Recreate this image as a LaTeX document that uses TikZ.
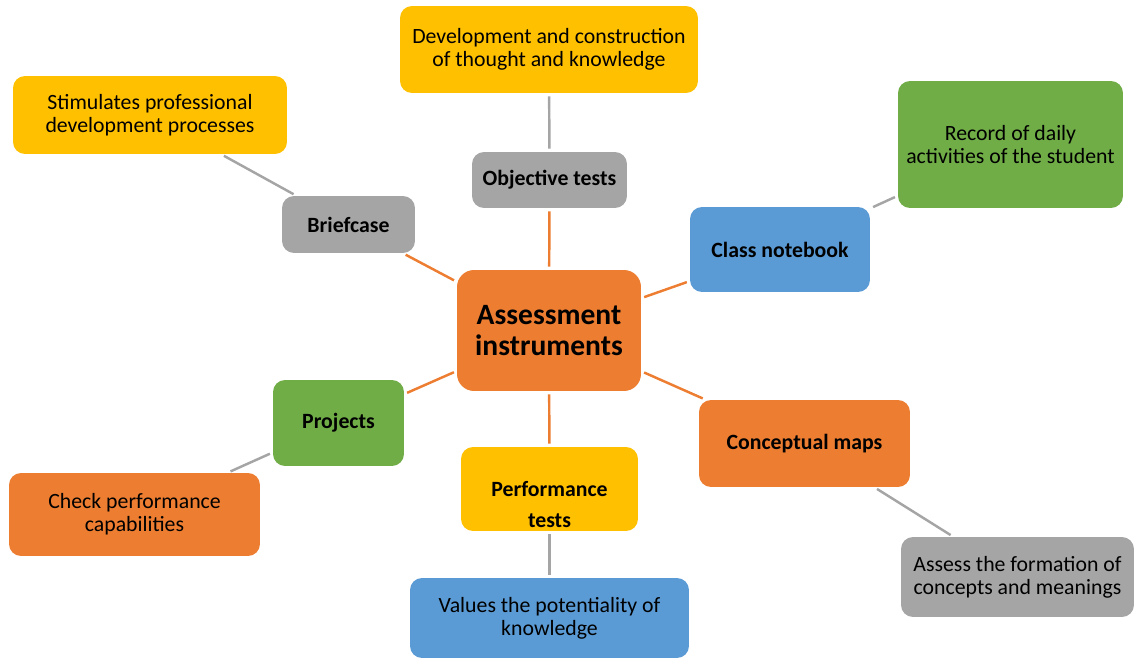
\documentclass[tikz,border=0pt]{standalone}
\usepackage{fontspec}
\setmainfont{Carlito}

\definecolor{accOrange}{HTML}{ED7D31}
\definecolor{accGray}{HTML}{A5A5A5}
\definecolor{accGold}{HTML}{FFC000}
\definecolor{accBlue}{HTML}{5B9BD5}
\definecolor{accGreen}{HTML}{70AD47}

\tikzset{
  box/.style={rounded corners=0.24cm, inner sep=2pt, align=center, text=black},
  topic/.style={box, font=\bfseries\fontsize{12.4}{15}\selectfont},
  note/.style={box, font=\fontsize{12.4}{13.1}\selectfont},
  link/.style={line width=1.4pt, shorten <=0.06cm, shorten >=0.06cm},
}

\begin{document}
\begin{tikzpicture}[x=0.02cm, y=-0.02cm]
\useasboundingbox (0,0) rectangle (1134,658);

% === Centre ===
\node[box, fill=accOrange, minimum width=3.68cm, minimum height=2.42cm, rounded corners=0.34cm,
      font=\bfseries\fontsize{16.8}{18.1}\selectfont] (hub) at (549,330.5) {Assessment\\instruments};

% === Objective tests ===
\node[topic, fill=accGray, minimum width=3.1cm, minimum height=1.12cm] (objt) at (549.5,180) {Objective tests};
\node[note, fill=accGold, minimum width=5.96cm, minimum height=1.74cm] (devt) at (549,49.5)
     {Development and construction\\of thought and knowledge};

% === Briefcase ===
\node[topic, fill=accGray, minimum width=2.66cm, minimum height=1.14cm] (brief) at (348.5,224.5) {Briefcase};
\node[note, fill=accGold, minimum width=5.48cm, minimum height=1.56cm] (stim) at (150,115)
     {Stimulates professional\\development processes};

% === Class notebook ===
\node[topic, fill=accBlue, minimum width=3.6cm, minimum height=1.7cm] (notebook) at (780,249.5) {Class notebook};
\node[note, fill=accGreen, minimum width=4.5cm, minimum height=2.54cm] (record) at (1010.5,144.5)
     {Record of daily\\activities of the student};

% === Conceptual maps ===
\node[topic, fill=accOrange, minimum width=4.22cm, minimum height=1.74cm] (concept) at (804.5,443.5) {Conceptual maps};
\node[note, fill=accGray, minimum width=4.66cm, minimum height=1.6cm] (assess) at (1017.5,577)
     {Assess the formation of\\concepts and meanings};

% === Performance tests ===
\node[topic, fill=accGold, minimum width=3.54cm, minimum height=1.68cm, text height=16pt, text depth=8pt] (perf) at (549.5,489)
     {\begin{tabular}[t]{@{}c@{}}Performance\\[3.1pt]tests\end{tabular}};
\node[note, fill=accBlue, minimum width=5.58cm, minimum height=1.6cm] (values) at (549.5,618)
     {Values the potentiality of\\knowledge};

% === Projects ===
\node[topic, fill=accGreen, minimum width=2.62cm, minimum height=1.72cm] (projects) at (338.5,423) {Projects};
\node[note, fill=accOrange, minimum width=5.02cm, minimum height=1.66cm] (check) at (134.5,514.5)
     {Check performance\\capabilities};

% === Links ===
\draw[link, accOrange] (hub) -- (objt);
\draw[link, accOrange] (hub) -- (brief);
\draw[link, accOrange] (hub) -- (notebook);
\draw[link, accOrange] (hub) -- (concept);
\draw[link, accOrange] (hub) -- (perf);
\draw[link, accOrange] (hub) -- (projects);

\draw[link, accGray] (objt) -- (devt);
\draw[link, accGray] (brief) -- (stim);
\draw[link, accGray] (notebook) -- (record);
\draw[link, accGray] (concept) -- (assess);
\draw[link, accGray] (perf) -- (values);
\draw[link, accGray] (projects) -- (check);

\end{tikzpicture}
\end{document}
